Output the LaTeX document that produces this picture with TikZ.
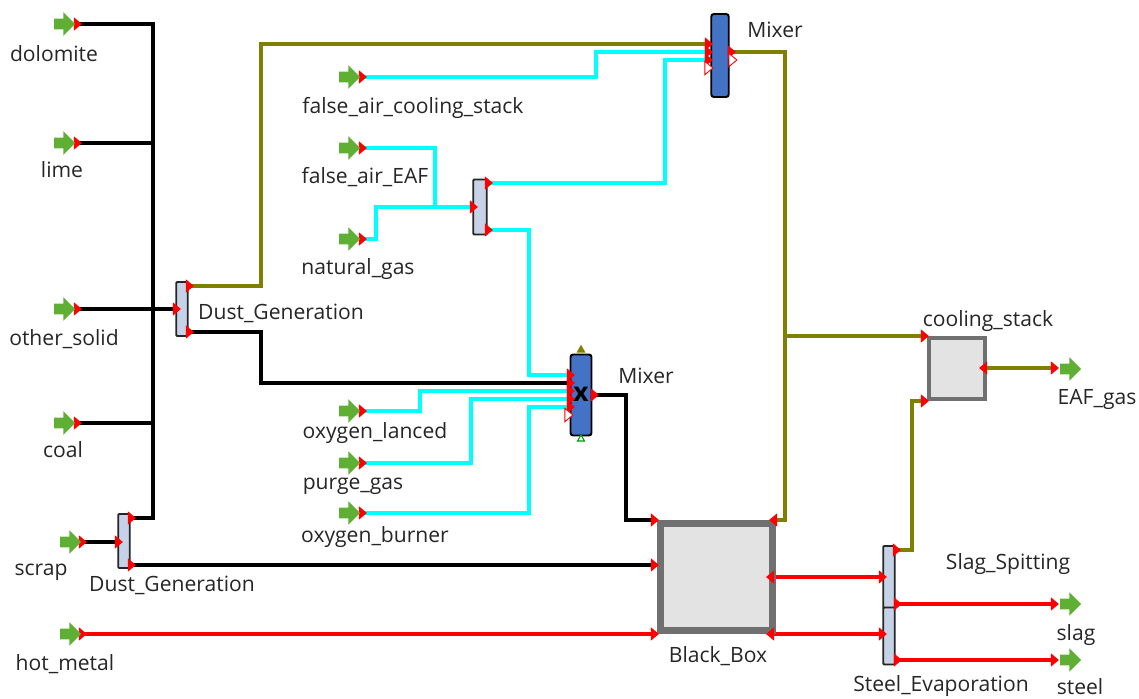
\documentclass[tikz,border=0pt]{standalone}
\usepackage{fontspec}
\setmainfont{Open Sans}
\usepackage{tikz}
\usetikzlibrary{shapes.geometric, shapes.arrows}

\definecolor{streamolive}{HTML}{808000}
\definecolor{streamcyan}{HTML}{00FFFF}
\definecolor{mixerblue}{HTML}{4472C4}
\definecolor{splitblue}{HTML}{C6D2E8}
\definecolor{unitgray}{HTML}{E3E3E3}
\definecolor{unitedge}{HTML}{707070}
\definecolor{termgreen}{HTML}{5FAF35}
\definecolor{labelgray}{HTML}{262626}

\tikzset{
  solidline/.style={line width=2.5pt, black},
  gasline/.style={line width=2.5pt, streamolive},
  airline/.style={line width=2.5pt, streamcyan},
  metalline/.style={line width=2.5pt, red},
  port/.style={isosceles triangle, isosceles triangle apex angle=80, fill=red,
    minimum height=0.16cm, minimum width=0.22cm, inner sep=0cm},
  backport/.style={port, shape border rotate=180},
  openport/.style={port, fill=white, draw=red, line width=0.5pt},
  terminal/.style={single arrow, single arrow head extend=0.13cm, fill=termgreen,
    minimum height=0.42cm, minimum width=0.46cm, inner xsep=0cm, inner ysep=0.1cm},
  splitbox/.style={draw=black!85, line width=1.1pt, fill=splitblue, rounded corners=0.5pt,
    inner sep=0cm, minimum width=0.23cm},
  mixerbox/.style={draw=black, line width=1.1pt, fill=mixerblue, rounded corners=1.5pt,
    inner sep=0cm},
  unitbox/.style={draw=unitedge, fill=unitgray, inner sep=0cm},
  label/.style={text=labelgray, inner sep=0cm, font=\fontsize{12}{14}\selectfont}
}

\begin{document}
\begin{tikzpicture}[x=0.02cm, y=-0.02cm]
    \useasboundingbox (0, 0) rectangle (1139, 699);

    \coordinate (dolomiteout) at (77, 24);
    \coordinate (limeout) at (77, 143);
    \coordinate (othersolidout) at (77, 309);
    \coordinate (coalout) at (77, 423);
    \coordinate (scrapout) at (82, 542);
    \coordinate (hotmetalout) at (82, 634);
    \coordinate (coolairout) at (362, 77);
    \coordinate (eafairout) at (362, 148);
    \coordinate (natgasout) at (362, 239);
    \coordinate (lancedout) at (362, 411);
    \coordinate (purgeout) at (362, 463);
    \coordinate (burnerout) at (362, 513);
    \coordinate (slagin) at (1054, 604);
    \coordinate (steelin) at (1054, 660);
    \coordinate (eafgasin) at (1054, 368);

    \coordinate (lowdustin) at (118, 542);
    \coordinate (lowdusttop) at (131, 518);
    \coordinate (lowdustbot) at (131, 565);
    \coordinate (updustin) at (176, 309);
    \coordinate (updusttop) at (189, 286);
    \coordinate (updustbot) at (189, 332);
    \coordinate (splitin) at (473, 207);
    \coordinate (splittop) at (488, 183);
    \coordinate (splitbot) at (488, 230);
    \coordinate (topmixa) at (708, 44);
    \coordinate (topmixb) at (708, 52);
    \coordinate (topmixc) at (708, 60);
    \coordinate (topmixout) at (731, 52);
    \coordinate (lowmixa) at (570, 375);
    \coordinate (lowmixb) at (570, 383);
    \coordinate (lowmixc) at (570, 391);
    \coordinate (lowmixd) at (570, 399);
    \coordinate (lowmixe) at (570, 407);
    \coordinate (lowmixout) at (594, 395);
    \coordinate (boxina) at (654, 520);
    \coordinate (boxinb) at (654, 565);
    \coordinate (boxinc) at (654, 634);
    \coordinate (boxgas) at (774, 520);
    \coordinate (boxouta) at (771, 577);
    \coordinate (boxoutb) at (771, 634);
    \coordinate (stackina) at (924, 336);
    \coordinate (stackinb) at (924, 401);
    \coordinate (stackout) at (984, 368);
    \coordinate (slagspitin) at (882, 577);
    \coordinate (slagspitgas) at (896, 550);
    \coordinate (slagspitout) at (897, 604);
    \coordinate (evapin) at (882, 634);
    \coordinate (evapout) at (897, 660);

    \coordinate (bustop) at (153, 24);
    \coordinate (busbot) at (153, 518);
    \coordinate (buslime) at (153, 143);
    \coordinate (buscoal) at (153, 423);
    \coordinate (gasbend) at (261, 150);
    \coordinate (solidbend) at (261, 360);
    \coordinate (coolbend) at (596, 65);
    \coordinate (splittopbend) at (665, 120);
    \coordinate (splitbotbend) at (529, 300);
    \coordinate (eafbend) at (435, 180);
    \coordinate (natbend) at (376, 220);
    \coordinate (lancedbend) at (420, 400);
    \coordinate (purgebend) at (471, 430);
    \coordinate (burnerbend) at (529, 460);
    \coordinate (outbend) at (626, 460);
    \coordinate (gascol) at (785, 300);
    \coordinate (gastee) at (785, 336);
    \coordinate (stackbend) at (912, 480);

    \draw [solidline] (dolomiteout) -- (bustop) -- (busbot) -- (lowdusttop);
    \draw [solidline] (limeout) -- (buslime);
    \draw [solidline] (coalout) -- (buscoal);
    \draw [solidline] (othersolidout) -- (updustin);
    \draw [solidline] (scrapout) -- (lowdustin);
    \draw [solidline] (lowdustbot) -- (boxinb);
    \draw [solidline] (updustbot) -| (solidbend) |- (lowmixb);
    \draw [solidline] (lowmixout) -| (outbend) |- (boxina);

    \draw [gasline] (updusttop) -| (gasbend) |- (topmixa);
    \draw [gasline] (topmixout) -| (gascol) |- (boxgas);
    \draw [gasline] (gastee) -- (stackina);
    \draw [gasline] (slagspitgas) -| (stackbend) |- (stackinb);
    \draw [gasline] (stackout) -- (eafgasin);

    \draw [airline] (coolairout) -| (coolbend) |- (topmixb);
    \draw [airline] (eafairout) -| (eafbend) |- (splitin);
    \draw [airline] (natgasout) -| (natbend) |- (splitin);
    \draw [airline] (splittop) -| (splittopbend) |- (topmixc);
    \draw [airline] (splitbot) -| (splitbotbend) |- (lowmixa);
    \draw [airline] (lancedout) -| (lancedbend) |- (lowmixc);
    \draw [airline] (purgeout) -| (purgebend) |- (lowmixd);
    \draw [airline] (burnerout) -| (burnerbend) |- (lowmixe);

    \draw [metalline] (hotmetalout) -- (boxinc);
    \draw [metalline] (boxouta) -- (slagspitin);
    \draw [metalline] (boxoutb) -- (evapin);
    \draw [metalline] (slagspitout) -- (slagin);
    \draw [metalline] (evapout) -- (steelin);

    \node [splitbox, minimum height=1.08cm] (lowdust) at (124, 541) {};
    \node [splitbox, minimum height=1.08cm] (updust) at (182, 309) {};
    \node [splitbox, minimum width=0.27cm, minimum height=1.1cm] (split) at (480, 207) {};
    \node [splitbox, minimum height=1.24cm] (slagspit) at (889, 577) {};
    \node [splitbox, minimum height=1.14cm] (evap) at (889, 636) {};
    \node [mixerbox, minimum width=0.35cm, minimum height=1.66cm] (topmix) at (720, 55.5) {};
    \node [mixerbox, minimum width=0.42cm, minimum height=1.62cm] (lowmix) at (581, 395) {};
    \node [font=\bfseries\fontsize{15}{15}\selectfont, inner sep=0cm] (lowmixcross) at (581, 394) {x};
    \node [unitbox, line width=2.6pt, minimum width=1.12cm, minimum height=1.22cm] (stack) at (957, 368.5) {};
    \node [unitbox, line width=4pt, minimum width=2.24cm, minimum height=2.14cm] (blackbox) at (716.5, 577) {};

    \node [isosceles triangle, shape border rotate=90, isosceles triangle apex angle=60, fill=streamolive,
      minimum height=0.14cm, minimum width=0.18cm, inner sep=0cm] (lowmixvap) at (581, 350) {};
    \node [isosceles triangle, shape border rotate=90, isosceles triangle apex angle=60, fill=white, draw=green!60!black,
      line width=0.6pt, minimum height=0.1cm, minimum width=0.14cm, inner sep=0cm] (lowmixliq) at (581, 439) {};

    \foreach \p in {dolomiteout, limeout, othersolidout, coalout, scrapout, hotmetalout,
      coolairout, eafairout, natgasout, lancedout, purgeout, burnerout,
      lowdustin, lowdusttop, lowdustbot, updustin, updusttop, updustbot,
      splitin, splittop, splitbot, topmixa, topmixb, topmixc, topmixout,
      lowmixa, lowmixb, lowmixc, lowmixd, lowmixe, lowmixout,
      boxina, boxinb, boxinc,
      stackina, stackinb, slagspitin, slagspitgas, slagspitout,
      evapin, evapout, slagin, steelin, eafgasin}
      \node [port, name=mark\p] at (\p) {};

    \foreach \p in {boxgas, boxouta, boxoutb, stackout}
      \node [backport, name=mark\p] at (\p) {};

    \node [openport] (topmixfree) at (708, 68) {};
    \node [openport] (topmixvent) at (732, 60) {};
    \node [openport] (lowmixfree) at (568, 415) {};

    \node [terminal] (dolomite) at (62, 24) {};
    \node [terminal] (lime) at (62, 143) {};
    \node [terminal] (othersolid) at (62, 309) {};
    \node [terminal] (coal) at (62, 423) {};
    \node [terminal] (scrap) at (68, 542) {};
    \node [terminal] (hotmetal) at (68, 634) {};
    \node [terminal] (coolair) at (347, 77) {};
    \node [terminal] (eafair) at (347, 148) {};
    \node [terminal] (natgas) at (347, 239) {};
    \node [terminal] (lanced) at (347, 411) {};
    \node [terminal] (purge) at (347, 463) {};
    \node [terminal] (burner) at (347, 513) {};
    \node [terminal] (slag) at (1068, 604) {};
    \node [terminal] (steel) at (1068, 660) {};
    \node [terminal] (eafgas) at (1068, 369) {};

    \node [label] (dolomitelabel) at (54, 54) {dolomite};
    \node [label] (limelabel) at (62, 170) {lime};
    \node [label] (othersolidlabel) at (64, 339) {other\_solid};
    \node [label] (coallabel) at (63, 450) {coal};
    \node [label] (scraplabel) at (41, 572) {scrap};
    \node [label] (hotmetallabel) at (65, 664) {hot\_metal};
    \node [label] (coolairlabel) at (413, 108) {false\_air\_cooling\_stack};
    \node [label] (eafairlabel) at (365, 177) {false\_air\_EAF};
    \node [label] (natgaslabel) at (358, 269) {natural\_gas};
    \node [label] (lancedlabel) at (375, 433) {oxygen\_lanced};
    \node [label] (purgelabel) at (353, 486) {purge\_gas};
    \node [label] (burnerlabel) at (375, 537) {oxygen\_burner};
    \node [label] (updustlabel) at (281, 313) {Dust\_Generation};
    \node [label] (lowdustlabel) at (172, 585) {Dust\_Generation};
    \node [label] (topmixlabel) at (775, 30) {Mixer};
    \node [label] (lowmixlabel) at (646, 376) {Mixer};
    \node [label] (stacklabel) at (988, 321) {cooling\_stack};
    \node [label] (eafgaslabel) at (1097, 399) {EAF\_gas};
    \node [label] (slagspitlabel) at (1008, 564) {Slag\_Spitting};
    \node [label] (slaglabel) at (1076, 635) {slag};
    \node [label] (steellabel) at (1080, 687) {steel};
    \node [label] (evaplabel) at (941, 686) {Steel\_Evaporation};
    \node [label] (blackboxlabel) at (718, 656) {Black\_Box};
  \end{tikzpicture}
\end{document}
